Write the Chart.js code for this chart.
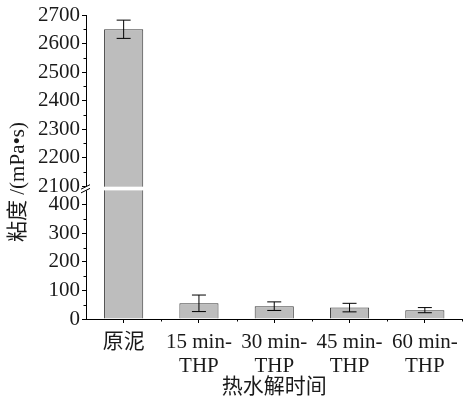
<!DOCTYPE html>
<html>
<head>
<meta charset="utf-8">
<script src="https://cdn.jsdelivr.net/npm/chart.js@4.4.1/dist/chart.umd.min.js"></script>
<style>
  html, body { margin: 0; padding: 0; background: #fff; }
  #wrap { width: 465px; height: 403px; }
</style>
</head>
<body>
<div id="wrap"><canvas id="viscosity"></canvas></div>
<script>
var categories = [['原泥'], ['15 min-', 'THP'], ['30 min-', 'THP'], ['45 min-', 'THP'], ['60 min-', 'THP']];
var viscosity = [2650, 55, 45, 40, 31];
var viscosityErr = [32, 29, 15, 15, 9];
var lowerTicks = [0, 100, 200, 300, 400];
var upperTicks = [2100, 2200, 2300, 2400, 2500, 2600, 2700];
var lowerMinor = [50, 150, 250, 350];
var upperMinor = [2150, 2250, 2350, 2450, 2550, 2650];

// broken axis: 0..450 drawn as is, everything from 2100 up is shifted down to sit above the break
var BREAK_FROM = 2100;
var UPPER_BASE = 466;
var GAP = [451, 464];

var FONT_FAMILY = "'Liberation Serif', 'Noto Sans CJK SC', serif";
var INK = '#1a1a1a';

function toAxis(v) { return v >= BREAK_FROM ? v - BREAK_FROM + UPPER_BASE : v; }
function fromAxis(v) { return v >= UPPER_BASE ? v - UPPER_BASE + BREAK_FROM : v; }

var errorBars = {
    id: 'errorBars',
    afterDatasetsDraw: function(chart) {
        var ctx = chart.ctx;
        var y = chart.scales.y;
        var meta = chart.getDatasetMeta(0);
        ctx.save();
        ctx.strokeStyle = '#000';
        ctx.lineWidth = 1;
        meta.data.forEach(function(bar, i) {
            var top = y.getPixelForValue(toAxis(viscosity[i] + viscosityErr[i]));
            var bot = y.getPixelForValue(toAxis(viscosity[i] - viscosityErr[i]));
            var cap = 7;
            ctx.beginPath();
            ctx.moveTo(bar.x, top); ctx.lineTo(bar.x, bot);
            ctx.moveTo(bar.x - cap, top); ctx.lineTo(bar.x + cap, top);
            ctx.moveTo(bar.x - cap, bot); ctx.lineTo(bar.x + cap, bot);
            ctx.stroke();
        });
        ctx.restore();
    }
};

var axisBreak = {
    id: 'axisBreak',
    afterDatasetsDraw: function(chart) {
        var ctx = chart.ctx;
        var y = chart.scales.y;
        var area = chart.chartArea;
        var gTop = y.getPixelForValue(GAP[1]);
        var gBot = y.getPixelForValue(GAP[0]);
        var ax = area.left;
        ctx.save();
        ctx.fillStyle = '#fff';
        ctx.fillRect(ax - 1, gTop, area.right - ax + 1, gBot - gTop);
        ctx.strokeStyle = '#000';
        ctx.lineWidth = 1;
        ctx.beginPath();
        ctx.moveTo(ax - 5, gTop + 2.5); ctx.lineTo(ax + 4, gTop - 2);
        ctx.moveTo(ax - 5, gBot + 2.5); ctx.lineTo(ax + 4, gBot - 2);
        ctx.stroke();
        ctx.restore();
    }
};

var minorTicks = {
    id: 'minorTicks',
    afterDraw: function(chart) {
        var ctx = chart.ctx;
        var x = chart.scales.x;
        var y = chart.scales.y;
        var area = chart.chartArea;
        ctx.save();
        ctx.strokeStyle = '#000';
        ctx.lineWidth = 1;
        ctx.beginPath();
        lowerMinor.concat(upperMinor).forEach(function(v) {
            var py = Math.round(y.getPixelForValue(toAxis(v))) + 0.5;
            ctx.moveTo(area.left - 2.5, py); ctx.lineTo(area.left, py);
        });
        for (var i = 0; i < categories.length; i++) {
            var px = i < categories.length - 1 ?
                (x.getPixelForValue(i) + x.getPixelForValue(i + 1)) / 2 : area.right;
            px = Math.round(px) + 0.5;
            ctx.moveTo(px, area.bottom); ctx.lineTo(px, area.bottom + 2.5);
        }
        ctx.stroke();

        // y title, mixed CJK / Latin
        ctx.fillStyle = INK;
        ctx.font = '21px ' + FONT_FAMILY;
        ctx.textAlign = 'center';
        ctx.textBaseline = 'middle';
        ctx.translate(y.left + 18, (area.top + area.bottom) / 2 + 15);
        ctx.rotate(-Math.PI / 2);
        ctx.fillText('粘度 /(mPa•s)', 0, 0);
        ctx.restore();
    }
};

var config = {
    type: 'bar',
    data: {
        labels: categories,
        datasets: [{
            data: viscosity.map(toAxis),
            backgroundColor: '#bdbdbd',
            borderColor: '#3a3a3a',
            borderWidth: 1,
            barPercentage: 0.52,
            categoryPercentage: 1
        }]
    },
    options: {
        responsive: true,
        maintainAspectRatio: false,
        animation: false,
        events: [],
        layout: { padding: { top: 15, right: 2, left: 0, bottom: 0 } },
        plugins: {
            legend: { display: false },
            tooltip: { enabled: false }
        },
        scales: {
            x: {
                afterFit: function(scale) { scale.height = 84; },
                grid: {
                    offset: false,
                    drawOnChartArea: false,
                    tickLength: 4,
                    color: '#000'
                },
                border: { color: '#000', width: 1 },
                ticks: {
                    color: INK,
                    padding: 7,
                    maxRotation: 0,
                    autoSkip: false,
                    font: { family: FONT_FAMILY, size: 21, lineHeight: 1.15 }
                },
                title: {
                    display: true,
                    text: '热水解时间',
                    color: INK,
                    padding: { top: 0, bottom: 3 },
                    font: { family: FONT_FAMILY, size: 21 }
                }
            },
            y: {
                min: 0,
                max: toAxis(2700),
                afterFit: function(scale) { scale.width = 86; },
                afterBuildTicks: function(scale) {
                    scale.ticks = lowerTicks.concat(upperTicks).map(function(v) {
                        return { value: toAxis(v) };
                    });
                },
                grid: {
                    drawOnChartArea: false,
                    tickLength: 4,
                    color: '#000'
                },
                border: { color: '#000', width: 1 },
                ticks: {
                    color: INK,
                    padding: 2,
                    autoSkip: false,
                    font: { family: FONT_FAMILY, size: 21 },
                    callback: function(value) { return String(fromAxis(value)); }
                }
            }
        }
    },
    plugins: [errorBars, axisBreak, minorTicks]
};

var ctx = document.getElementById('viscosity').getContext('2d');
var viscosityChart = new Chart(ctx, config);
</script>
</body>
</html>
